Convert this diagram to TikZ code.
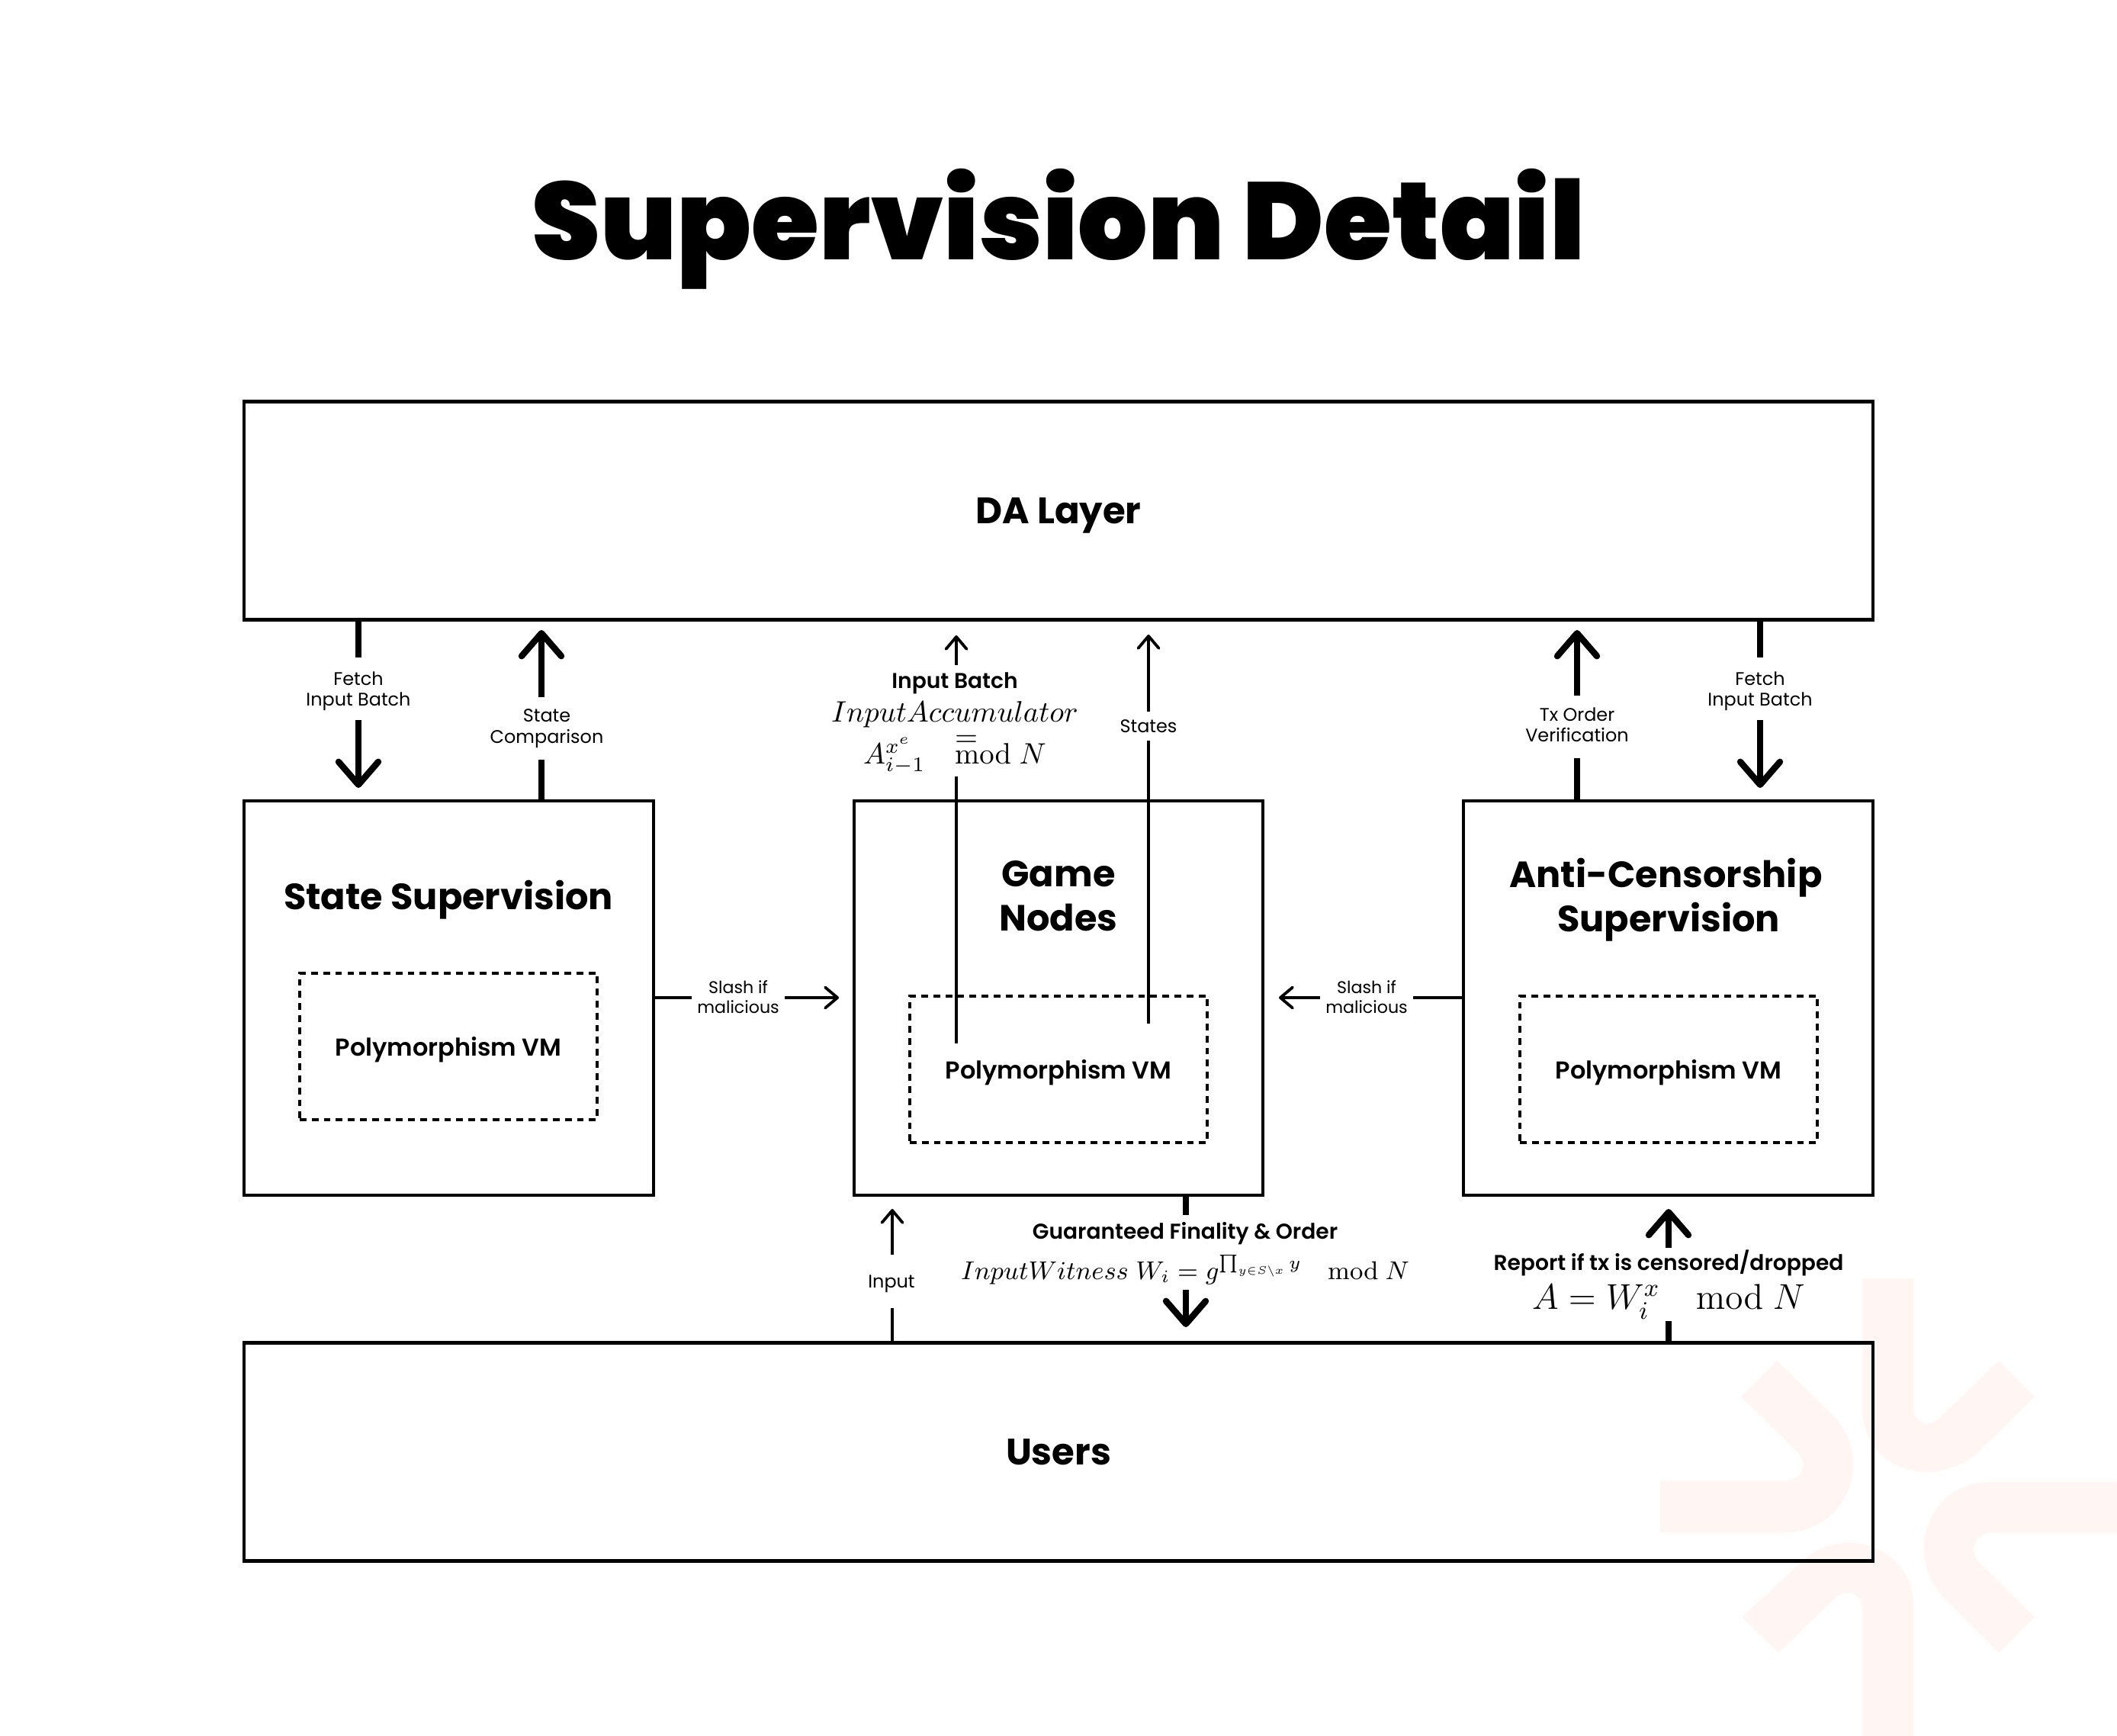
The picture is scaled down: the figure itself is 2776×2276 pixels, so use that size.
\documentclass[tikz,border=0pt]{standalone}
\usepackage{fix-cm}
\usepackage[no-math]{fontspec}
\usepackage{amsmath}
\usetikzlibrary{arrows.meta}
\setmainfont{Poppins}
\newfontfamily\titlefont{Poppins Black}
\newfontfamily\semifont{Poppins SemiBold}
\definecolor{logopink}{HTML}{FFF5F3}
\DeclareMathSizes{9.6}{9.6}{6.6}{4.1}
\tikzset{
  x=0.01cm, y=-0.01cm,
  box/.style={draw, line width=1.2pt, outer sep=0pt, inner sep=0pt, text depth=0pt},
  vmbox/.style={draw, line width=1.05pt, outer sep=0pt, inner sep=0pt, text depth=0pt, dash pattern=on 0.088cm off 0.07cm, minimum width=3.9cm, minimum height=1.92cm, font=\semifont\fontsize{9.1}{12}\selectfont},
  bigarrow/.style={line width=2.38pt, -{Straight Barb[length=0.3cm,width=0.52cm,round]}},
  thinarrow/.style={line width=1.08pt, -{Straight Barb[length=0.16cm,width=0.27cm,round]}},
  lbl/.style={fill=white, inner xsep=3pt, inner ysep=0pt, text depth=0pt, align=center, font=\fontsize{6.8}{7.8}\selectfont},
  heading/.style={align=center, font=\bfseries\fontsize{13.6}{16.4}\selectfont}
}
\begin{document}
\begin{tikzpicture}
\useasboundingbox (0,0) rectangle (2776,2276);
% logo
\fill[logopink] (2442,1676) -- (2509,1676) -- (2509,1845) .. controls (2509,1868) and (2532,1873) .. (2545,1857) -- (2621,1784) -- (2668,1831) -- (2596,1902) .. controls (2540,1955) and (2442,1930) .. (2442,1845) -- cycle;
\fill[logopink] (2177,1941) -- (2341,1941) .. controls (2365,1941) and (2372,1917) .. (2355,1902) -- (2283,1831) -- (2330,1784) -- (2403,1855) .. controls (2460,1915) and (2420,2009) .. (2341,2009) -- (2177,2009) -- cycle;
\fill[logopink] (2776,1943) -- (2610,1943) .. controls (2530,1943) and (2495,2035) .. (2548,2094) -- (2621,2167) -- (2668,2120) -- (2596,2049) .. controls (2580,2033) and (2590,2009) .. (2615,2009) -- (2776,2009) -- cycle;
\fill[logopink] (2509,2276) -- (2509,2103) .. controls (2509,2030) and (2415,1995) .. (2361,2049) -- (2284,2120) -- (2332,2167) -- (2406,2096) .. controls (2420,2080) and (2442,2090) .. (2442,2108) -- (2442,2276) -- cycle;
% title
\node (title) at (1388,300) {\titlefont\fontsize{40.9}{49}\selectfont Supervision Detail};
% boxes
\node[box, minimum width=21.34cm, minimum height=2.86cm, font=\bfseries\fontsize{13.7}{16}\selectfont] (da) at (1388,669.5) {DA Layer};
\node[box, minimum width=5.36cm, minimum height=5.16cm] (state) at (588.5,1308.5) {};
\node[box, minimum width=5.36cm, minimum height=5.16cm] (game) at (1388,1308.5) {};
\node[box, minimum width=5.36cm, minimum height=5.16cm] (anti) at (2187.5,1308.5) {};
\node[box, minimum width=21.34cm, minimum height=2.86cm, font=\bfseries\fontsize{13.7}{16}\selectfont] (users) at (1388,1903.5) {Users};
\node[heading] (statetitle) at (588,1180) {State Supervision};
\node[heading] (gametitle) at (1388,1175) {Game\\Nodes};
\node[heading] (antititle) at (2188,1180) {Anti-Censorship\hspace*{2pt}\\Supervision};
\node[vmbox] (statevm) at (588,1372) {Polymorphism VM};
\node[vmbox] (gamevm) at (1388,1402) {Polymorphism VM};
\node[vmbox] (antivm) at (2188,1402) {Polymorphism VM};
% free ends
\coordinate (fetchL) at (470,1033);
\coordinate (fetchR) at (2308,1033);
\coordinate (compare) at (710,826);
\coordinate (txorder) at (2068,826);
\coordinate (batchtip) at (1254,833);
\coordinate (batchend) at (1254,1368);
\coordinate (statestip) at (1506,832);
\coordinate (statesend) at (1506,1342);
\coordinate (slashL) at (1100,1308);
\coordinate (slashR) at (1677,1308);
\coordinate (inputtip) at (1170,1585);
\coordinate (finality) at (1555,1740);
\coordinate (report) at (2188,1585);
% connectors
\draw[bigarrow] (da.south -| fetchL) -- (fetchL);
\draw[bigarrow] (da.south -| fetchR) -- (fetchR);
\draw[bigarrow] (state.north -| compare) -- (compare);
\draw[bigarrow] (anti.north -| txorder) -- (txorder);
\draw[thinarrow] (batchend) -- (batchtip);
\draw[thinarrow] (statesend) -- (statestip);
\draw[thinarrow] (state.east |- slashL) -- (slashL);
\draw[thinarrow] (anti.west |- slashR) -- (slashR);
\draw[thinarrow] (users.north -| inputtip) -- (inputtip);
\draw[bigarrow] (game.south -| finality) -- (finality);
\draw[bigarrow] (users.north -| report) -- (report);
% labels
\node[lbl, minimum height=0.81cm] (fetchLlbl) at (470,903) {Fetch\\Input Batch};
\node[lbl, minimum height=0.81cm] (fetchRlbl) at (2308,903) {Fetch\\Input Batch};
\node[lbl, minimum height=0.81cm, text depth=1.7pt] (comparelbl) at (717,955) {State\\Comparison};
\node[lbl, minimum height=0.81cm, text depth=1.7pt] (txorderlbl) at (2068,953) {Tx Order\\Verification};
\node[lbl, minimum height=0.38cm] (stateslbl) at (1506,952) {States};
\node[lbl, minimum height=0.69cm] (inputlbl) at (1169,1680) {Input};
\node[lbl, inner xsep=0pt, minimum width=1.21cm, font=\fontsize{6.3}{7.5}\selectfont] (slashLlbl) at (968,1307) {Slash if\\malicious};
\node[lbl, inner xsep=0pt, minimum width=1.22cm, font=\fontsize{6.3}{7.5}\selectfont] (slashRlbl) at (1792,1307) {Slash if\\malicious};
% labels with formulas
\node[lbl, minimum height=1.46cm, text depth=2pt, font=\fontsize{11}{13}\selectfont] (batchlbl) at (1252,945) {{\semifont\fontsize{8}{10}\selectfont Input Batch}\\[-0.4pt]$InputAccumulator$\\[2.6pt]$A_{i-1}^{x^e}\quad\rlap{\raisebox{1.1ex}{$=$}}\mathrm{mod}\ N$};
\node[lbl, minimum height=0.98cm, text depth=1.2pt, font=\fontsize{9.6}{12}\selectfont] (finalitylbl) at (1554,1642) {{\semifont\fontsize{8}{10}\selectfont Guaranteed Finality \& Order}\\[3.2pt]$InputWitness\;W_i=g^{\prod_{y\in S\setminus x}y}\quad\mathrm{mod}\ N$};
\node[lbl, minimum height=0.96cm, text depth=3.4pt, font=\fontsize{13.4}{15}\selectfont] (reportlbl) at (2188,1684) {{\semifont\fontsize{8}{10}\selectfont Report if tx is censored/dropped}\\[-0.5pt]$A=W_i^x\quad\mathrm{mod}\ N$};
\end{tikzpicture}
\end{document}
